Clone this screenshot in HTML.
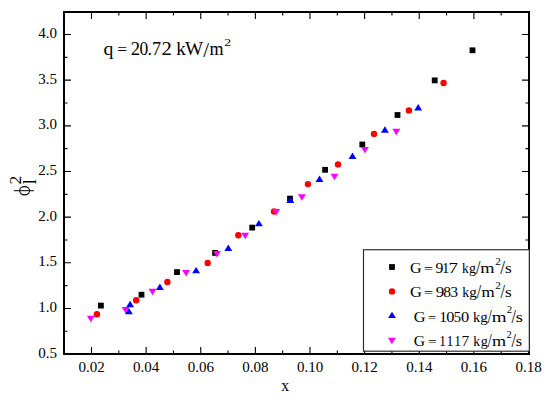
<!DOCTYPE html>
<html><head><meta charset="utf-8"><style>
html,body{margin:0;padding:0;background:#fff;}
body{width:550px;height:400px;overflow:hidden;font-family:"Liberation Serif",serif;}
svg{display:block;}
</style></head><body><svg width="550" height="400" viewBox="0 0 550 400" font-family="'Liberation Serif', serif" fill="#000"><path d="M64 308.49h7M529 308.49h-7M64 262.82h7M529 262.82h-7M64 217.16h7M529 217.16h-7M64 171.5h7M529 171.5h-7M64 125.83h7M529 125.83h-7M64 80.16h7M529 80.16h-7M64 34.5h7M529 34.5h-7M64 331.32h3.5M529 331.32h-3.5M64 285.66h3.5M529 285.66h-3.5M64 239.99h3.5M529 239.99h-3.5M64 194.33h3.5M529 194.33h-3.5M64 148.66h3.5M529 148.66h-3.5M64 103h3.5M529 103h-3.5M64 57.33h3.5M529 57.33h-3.5M91.5 354v-7M91.5 12v7M118.81 354v-3.5M118.81 12v3.5M146.12 354v-7M146.12 12v7M173.44 354v-3.5M173.44 12v3.5M200.75 354v-7M200.75 12v7M228.06 354v-3.5M228.06 12v3.5M255.38 354v-7M255.38 12v7M282.69 354v-3.5M282.69 12v3.5M310 354v-7M310 12v7M337.31 354v-3.5M337.31 12v3.5M364.62 354v-7M364.62 12v7M391.94 354v-3.5M391.94 12v3.5M419.25 354v-7M419.25 12v7M446.56 354v-3.5M446.56 12v3.5M473.88 354v-7M473.88 12v7M501.19 354v-3.5M501.19 12v3.5" stroke="#000" stroke-width="1.1" fill="none"/><rect x="64" y="12" width="465" height="342" fill="none" stroke="#000" stroke-width="2"/><rect x="363.5" y="249.75" width="165.8" height="101.45" fill="#fff" stroke="#2a2a2a" stroke-width="1.15"/><g font-size="15"><text x="57" y="357.65" text-anchor="end">0.5</text><text x="57" y="311.99" text-anchor="end">1.0</text><text x="57" y="266.32" text-anchor="end">1.5</text><text x="57" y="220.66" text-anchor="end">2.0</text><text x="57" y="175" text-anchor="end">2.5</text><text x="57" y="129.33" text-anchor="end">3.0</text><text x="57" y="83.66" text-anchor="end">3.5</text><text x="57" y="38" text-anchor="end">4.0</text><text x="91.5" y="371.7" text-anchor="middle">0.02</text><text x="146.12" y="371.7" text-anchor="middle">0.04</text><text x="200.75" y="371.7" text-anchor="middle">0.06</text><text x="255.38" y="371.7" text-anchor="middle">0.08</text><text x="310" y="371.7" text-anchor="middle">0.10</text><text x="364.62" y="371.7" text-anchor="middle">0.12</text><text x="419.25" y="371.7" text-anchor="middle">0.14</text><text x="473.88" y="371.7" text-anchor="middle">0.16</text><text x="528.5" y="371.7" text-anchor="middle">0.18</text></g><rect x="98" y="302.7" width="5.8" height="5.8" fill="#000"/><rect x="138.6" y="291.8" width="5.8" height="5.8" fill="#000"/><rect x="174.1" y="269.2" width="5.8" height="5.8" fill="#000"/><rect x="212.2" y="250" width="5.8" height="5.8" fill="#000"/><rect x="249.3" y="224.7" width="5.8" height="5.8" fill="#000"/><rect x="287.1" y="195.7" width="5.8" height="5.8" fill="#000"/><rect x="322.2" y="166.9" width="5.8" height="5.8" fill="#000"/><rect x="359.4" y="141.6" width="5.8" height="5.8" fill="#000"/><rect x="394.6" y="112.1" width="5.8" height="5.8" fill="#000"/><rect x="431.8" y="77.5" width="5.8" height="5.8" fill="#000"/><rect x="469.6" y="47.4" width="5.8" height="5.8" fill="#000"/><circle cx="96.9" cy="314.3" r="3.2" fill="#f00"/><circle cx="136.2" cy="300.2" r="3.2" fill="#f00"/><circle cx="167.4" cy="282" r="3.2" fill="#f00"/><circle cx="207.7" cy="263" r="3.2" fill="#f00"/><circle cx="238.3" cy="235.2" r="3.2" fill="#f00"/><circle cx="274" cy="211.5" r="3.2" fill="#f00"/><circle cx="307.9" cy="184.1" r="3.2" fill="#f00"/><circle cx="338" cy="164.4" r="3.2" fill="#f00"/><circle cx="374" cy="133.9" r="3.2" fill="#f00"/><circle cx="408.9" cy="110.4" r="3.2" fill="#f00"/><circle cx="443.6" cy="83" r="3.2" fill="#f00"/><path d="M86.85 315.8H94.75L90.8 322.2Z" fill="#f0f"/><path d="M121.55 306.9H129.45L125.5 313.3Z" fill="#f0f"/><path d="M148.55 288.8H156.45L152.5 295.2Z" fill="#f0f"/><path d="M182.15 270H190.05L186.1 276.4Z" fill="#f0f"/><path d="M213.05 251H220.95L217 257.4Z" fill="#f0f"/><path d="M241.25 232.8H249.15L245.2 239.2Z" fill="#f0f"/><path d="M272.25 209H280.15L276.2 215.4Z" fill="#f0f"/><path d="M297.95 194.3H305.85L301.9 200.7Z" fill="#f0f"/><path d="M330.55 173.8H338.45L334.5 180.2Z" fill="#f0f"/><path d="M360.95 146.9H368.85L364.9 153.3Z" fill="#f0f"/><path d="M392.35 128.8H400.25L396.3 135.2Z" fill="#f0f"/><path d="M124.95 314.3H132.85L128.9 307.9Z" fill="#00f"/><path d="M126.15 307.2H134.05L130.1 300.8Z" fill="#00f"/><path d="M155.95 289.9H163.85L159.9 283.5Z" fill="#00f"/><path d="M192.15 273.3H200.05L196.1 266.9Z" fill="#00f"/><path d="M224.35 250.9H232.25L228.3 244.5Z" fill="#00f"/><path d="M254.95 226.3H262.85L258.9 219.9Z" fill="#00f"/><path d="M286.35 202.9H294.25L290.3 196.5Z" fill="#00f"/><path d="M315.55 181.9H323.45L319.5 175.5Z" fill="#00f"/><path d="M348.55 159H356.45L352.5 152.6Z" fill="#00f"/><path d="M380.95 132.7H388.85L384.9 126.3Z" fill="#00f"/><path d="M414.25 110.5H422.15L418.2 104.1Z" fill="#00f"/><rect x="389.1" y="264.1" width="5.8" height="5.8" fill="#000"/><text transform="translate(410.04,272.5) scale(1.07,1)" font-size="15">G</text><text transform="translate(423.78,272.9) scale(1.1,0.88)" font-size="15">=</text><text transform="translate(435.39,272.5) scale(1.05,1)" font-size="15">9</text><text transform="translate(441.93,272.5) scale(0.97,1)" font-size="15">1</text><text transform="translate(448.45,272.5) scale(1.27,1)" font-size="15">7</text><text transform="translate(461.94,272.5) scale(0.9,1)" font-size="15">k</text><text transform="translate(468.9,272.5) scale(0.93,1)" font-size="15">g</text><text transform="translate(476,273.8) scale(1.06,1.19)" font-size="15">/</text><text transform="translate(480.31,272.5) scale(1.22,1)" font-size="15">m</text><text transform="translate(495.31,264.8) scale(1.1,1)" font-size="10.2">2</text><text transform="translate(500.3,273.8) scale(1.15,1.19)" font-size="15">/</text><text transform="translate(504.99,272.5) scale(1.15,1)" font-size="15">s</text><circle cx="392" cy="291.4" r="3.2" fill="#f00"/><text transform="translate(410.02,297) scale(1.1,1)" font-size="15">G</text><text transform="translate(423.78,297.4) scale(1.1,0.88)" font-size="15">=</text><text transform="translate(435.65,297) scale(1.14,1)" font-size="15">9</text><text transform="translate(443.21,297) scale(1.04,1)" font-size="15">8</text><text transform="translate(450.38,297) scale(1,1)" font-size="15">3</text><text transform="translate(462.33,297) scale(0.93,1)" font-size="15">k</text><text transform="translate(469.15,297) scale(1,1)" font-size="15">g</text><text transform="translate(476.7,298.3) scale(1.06,1.19)" font-size="15">/</text><text transform="translate(481.44,297) scale(1.13,1)" font-size="15">m</text><text transform="translate(495.31,289.1) scale(1.1,1)" font-size="10.2">2</text><text transform="translate(500.6,298.3) scale(1.08,1.19)" font-size="15">/</text><text transform="translate(504.99,297) scale(1.15,1)" font-size="15">s</text><path d="M388.05 318.1H395.95L392 311.7Z" fill="#00f"/><text transform="translate(413.63,321.5) scale(1.09,1)" font-size="15">G</text><text transform="translate(427.99,321.9) scale(0.95,0.88)" font-size="15">=</text><text transform="translate(439.33,321.5) scale(1.04,1)" font-size="15">1</text><text transform="translate(446.28,321.5) scale(1.09,1)" font-size="15">0</text><text transform="translate(453.65,321.5) scale(0.98,1)" font-size="15">5</text><text transform="translate(460.88,321.5) scale(1.09,1)" font-size="15">0</text><text transform="translate(473.03,321.5) scale(0.96,1)" font-size="15">k</text><text transform="translate(480.25,321.5) scale(1,1)" font-size="15">g</text><text transform="translate(487.8,322.8) scale(0.96,1.19)" font-size="15">/</text><text transform="translate(491.8,321.5) scale(1.27,1)" font-size="15">m</text><text transform="translate(506.63,313.1) scale(1.05,1)" font-size="10.2">2</text><text transform="translate(511.4,322.8) scale(1.08,1.19)" font-size="15">/</text><text transform="translate(515.75,321.5) scale(1.22,1)" font-size="15">s</text><path d="M387.95 337.8H395.85L391.9 344.2Z" fill="#f0f"/><text transform="translate(413.66,345.6) scale(1.04,1)" font-size="15">G</text><text transform="translate(427.94,346) scale(1.02,0.88)" font-size="15">=</text><text transform="translate(439.23,345.6) scale(0.89,1)" font-size="15">1</text><text transform="translate(446.4,345.6) scale(0.91,1)" font-size="15">1</text><text transform="translate(454.13,345.6) scale(0.89,1)" font-size="15">1</text><text transform="translate(461.49,345.6) scale(1.02,1)" font-size="15">7</text><text transform="translate(473.34,345.6) scale(0.91,1)" font-size="15">k</text><text transform="translate(480.69,345.6) scale(0.94,1)" font-size="15">g</text><text transform="translate(487.8,346.9) scale(0.96,1.19)" font-size="15">/</text><text transform="translate(492.12,345.6) scale(1.21,1)" font-size="15">m</text><text transform="translate(506.44,338) scale(1.03,1)" font-size="10.2">2</text><text transform="translate(511.4,346.9) scale(1.08,1.19)" font-size="15">/</text><text transform="translate(515.83,345.6) scale(1.09,1)" font-size="15">s</text><text transform="translate(103.39,54.8) scale(1.1,1)" font-size="18">q</text><text transform="translate(117.13,54.8) scale(0.97,0.92)" font-size="18">=</text><text transform="translate(130.69,54.8) scale(1.03,1)" font-size="18">2</text><text transform="translate(139.54,54.8) scale(0.97,1)" font-size="18">0</text><text transform="translate(147.78,54.8) scale(0.94,1)" font-size="18">.</text><text transform="translate(152.1,54.8) scale(1.01,1)" font-size="18">7</text><text transform="translate(161.59,54.8) scale(1.15,1)" font-size="18">2</text><text transform="translate(176.34,54.8) scale(1.05,1)" font-size="18">k</text><text transform="translate(185.08,54.8) scale(1.07,1)" font-size="18">W</text><text transform="translate(203.3,57.08) scale(1.16,1.22)" font-size="18">/</text><text transform="translate(209.52,54.8) scale(1,1)" font-size="18">m</text><text transform="translate(224.19,45.8) scale(1.35,1)" font-size="10.2">2</text><text transform="translate(281,390.8) scale(0.9,1)" x="0.29" y="0" font-size="17.5">x</text><path d="M13.8 190.7H33.9" stroke="#000" stroke-width="1"/><path fill-rule="evenodd" d="M19.150000000000002 190.75a5.45 4.85 0 1 0 10.9 0a5.45 4.85 0 1 0 -10.9 0ZM20.150000000000002 190.75a4.45 3.45 0 1 0 8.9 0a4.45 3.45 0 1 0 -8.9 0Z"/><text transform="translate(20.8,184.4) rotate(-90)" font-size="17.5">2</text><text transform="translate(36,184.3) rotate(-90)" font-size="18">l</text></svg></body></html>
